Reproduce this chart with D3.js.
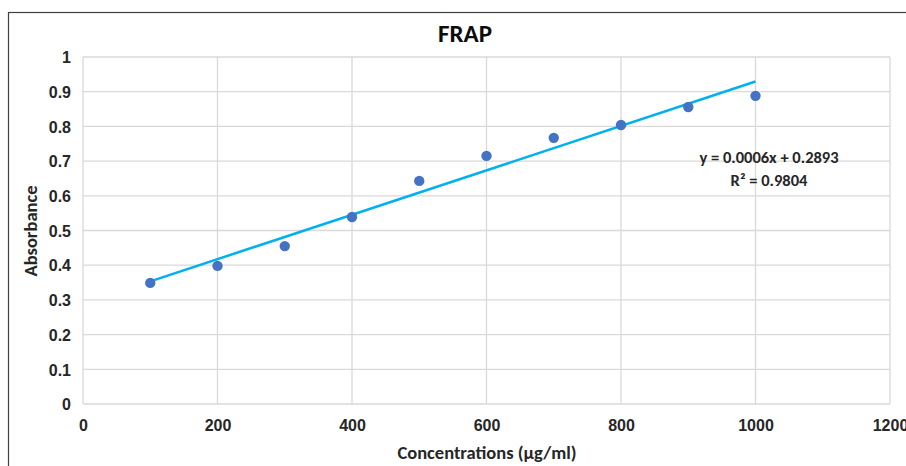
<!DOCTYPE html>
<html>
<head>
<meta charset="utf-8">
<script src="https://cdn.jsdelivr.net/npm/d3@7"></script>
<style>
  body { margin: 0; background: #fff; }
  svg { display: block; font-family: Carlito, Lato, "Open Sans", sans-serif; }
  .tick text { font-weight: bold; font-size: 16px; fill: #262626; }
</style>
</head>
<body>
<div class="chart"></div>
<script>
// data
const concentrations = [100, 200, 300, 400, 500, 600, 700, 800, 900, 1000];
const absorbance = [0.349, 0.398, 0.455, 0.539, 0.643, 0.715, 0.767, 0.804, 0.856, 0.888];
const xTicks = [0, 200, 400, 600, 800, 1000, 1200];
const yTicks = [0, 0.1, 0.2, 0.3, 0.4, 0.5, 0.6, 0.7, 0.8, 0.9, 1];
const equationLines = ['y = 0.0006x + 0.2893', 'R² = 0.9804'];

const points = concentrations.map((c, i) => ({x: c, y: absorbance[i]}));

const width = 906, height = 466;
const margin = {top: 57, right: 16, bottom: 62, left: 83};
const w = width - margin.left - margin.right;
const h = height - margin.top - margin.bottom;

const svg = d3.select('.chart').append('svg')
  .attr('width', width).attr('height', height);

// outer chart frame (only top + left visible in picture)
svg.append('rect')
  .attr('x', 8.5).attr('y', 12.5)
  .attr('width', 1000).attr('height', 1000)
  .style('fill', 'none').style('stroke', '#404040').style('stroke-width', 1.2);

const g = svg.append('g').attr('transform', `translate(${margin.left},${margin.top})`);

const xScale = d3.scaleLinear([0, 1200], [0, w]);
const yScale = d3.scaleLinear([0, 1], [h, 0]);

// grid
g.append('g').selectAll('line.v').data(xTicks).join('line')
  .attr('x1', d => xScale(d)).attr('x2', d => xScale(d))
  .attr('y1', 0).attr('y2', h)
  .style('stroke', '#d9d9d9').style('stroke-width', 1.3);
g.append('g').selectAll('line.h').data(yTicks).join('line')
  .attr('x1', 0).attr('x2', w)
  .attr('y1', d => yScale(d)).attr('y2', d => yScale(d))
  .style('stroke', '#d9d9d9').style('stroke-width', 1.3);

// axes (labels only)
const xAxis = d3.axisBottom(xScale).tickValues(xTicks).tickSize(0).tickPadding(16)
  .tickFormat(d3.format('d'));
const yAxis = d3.axisLeft(yScale).tickValues(yTicks).tickSize(0).tickPadding(12)
  .tickFormat(d3.format('~g'));
const xAxisDraw = g.append('g').attr('class', 'x axis')
  .attr('transform', `translate(0,${h})`).call(xAxis);
const yAxisDraw = g.append('g').attr('class', 'y axis').call(yAxis);
xAxisDraw.select('.domain').remove();
yAxisDraw.select('.domain').remove();
yAxisDraw.selectAll('text').attr('dy', '0.36em');

// trendline (least squares)
const mx = d3.mean(points, d => d.x), my = d3.mean(points, d => d.y);
const slope = d3.sum(points, d => (d.x - mx) * (d.y - my)) / d3.sum(points, d => (d.x - mx) ** 2);
const intercept = my - slope * mx;
const xr = d3.extent(concentrations);
const trend = xr.map(x => ({x, y: slope * x + intercept}));
const line = d3.line().x(d => xScale(d.x)).y(d => yScale(d.y));
g.append('path').datum(trend).attr('d', line)
  .style('fill', 'none').style('stroke', '#00b0f0').style('stroke-width', 2.5);

// points
g.append('g').selectAll('circle').data(points).join('circle')
  .attr('cx', d => xScale(d.x)).attr('cy', d => yScale(d.y)).attr('r', 5.2)
  .style('fill', '#4472c4');

// equation
g.append('text')
  .attr('x', 686).attr('y', 106)
  .attr('text-anchor', 'middle')
  .style('font-size', '16.5px').style('font-weight', 'bold').style('fill', '#262626')
  .selectAll('tspan').data(equationLines).join('tspan')
  .attr('x', 686).attr('dy', (d, i) => i === 0 ? 0 : 23)
  .text(d => d);

// title
svg.append('text').attr('x', 465).attr('y', 42).attr('text-anchor', 'middle')
  .style('font-size', '25px').style('font-weight', 'bold').style('fill', '#0d0d0d')
  .text('FRAP');

// axis titles
svg.append('text').attr('x', 487).attr('y', 459).attr('text-anchor', 'middle')
  .style('font-size', '18.5px').style('font-weight', 'bold').style('fill', '#262626')
  .text('Concentrations (µg/ml)');
svg.append('text')
  .attr('transform', 'translate(37,231) rotate(-90)')
  .attr('text-anchor', 'middle')
  .style('font-size', '18.5px').style('font-weight', 'bold').style('fill', '#262626')
  .text('Absorbance');
</script>
</body>
</html>
